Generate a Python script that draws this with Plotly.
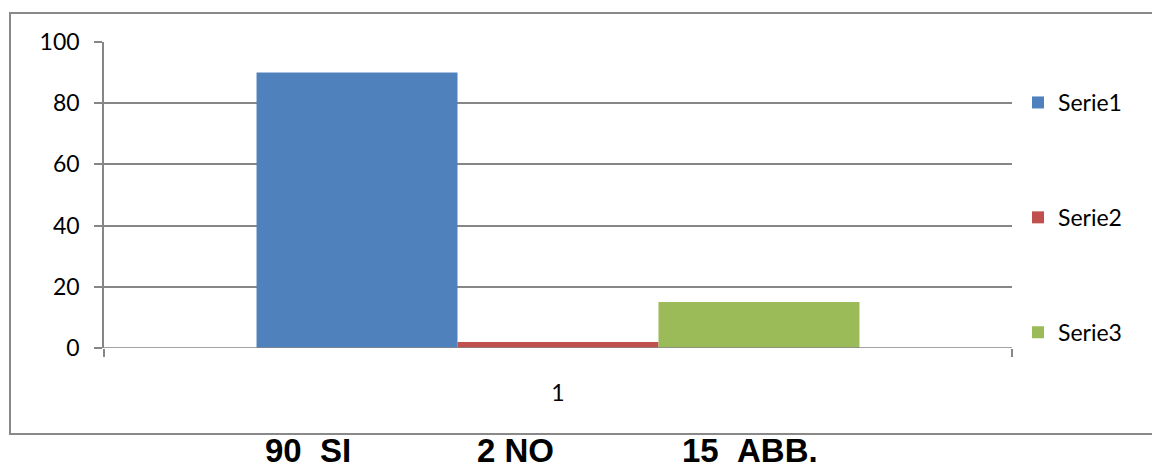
import plotly.graph_objects as go

categories = ["1"]
series_names = ["Serie1", "Serie2", "Serie3"]
series_values = [[90], [2], [15]]
series_colors = ["#4F81BD", "#C0504D", "#9BBB59"]
y_ticks = [0, 20, 40, 60, 80, 100]
footer_labels = ["90\u00a0\u00a0SI", "2 NO", "15\u00a0\u00a0ABB."]
footer_x_px = [308, 515, 750]

# page body has an 8px margin; work in window pixels and convert
OFF = 8
W, H = 1160 - OFF, 472 - OFF
L, R, T, B = 104 - OFF, 1160 - 1012, 42 - OFF, 472 - 348
pw, ph = W - L - R, H - T - B

fig = go.Figure()
for name, vals, col in zip(series_names, series_values, series_colors):
    fig.add_trace(go.Bar(x=categories, y=vals, name=name, marker_color=col,
                         marker_line_width=0, legendgroup=name))

def px_x(px):
    return (px - OFF - L) / pw

def px_y(py):
    return (T + ph - (py - OFF)) / ph

grid_col = "#868686"
fig.update_layout(
    width=W, height=H,
    margin=dict(l=L, r=R, t=T, b=B, pad=0),
    paper_bgcolor="white", plot_bgcolor="white",
    barmode="group", bargap=0.336, bargroupgap=0,
    font=dict(family="Lato", size=23, color="#000000"),
    showlegend=True,
    legend=dict(x=px_x(1018), y=px_y(81), xanchor="left", yanchor="top",
                traceorder="grouped", tracegroupgap=82,
                font=dict(family="Lato", size=23, color="#000000"),
                bgcolor="rgba(0,0,0,0)", itemwidth=30),
    xaxis=dict(type="category", showgrid=False, showline=False, zeroline=False,
               ticks="outside", tickson="boundaries", ticklen=8, tickwidth=1.5,
               tickcolor=grid_col, ticklabelstandoff=29,
               tickfont=dict(family="Lato", size=23)),
    yaxis=dict(range=[0, 100], tickvals=y_ticks, showgrid=True, gridcolor=grid_col,
               gridwidth=1.5, showline=True, linecolor=grid_col, linewidth=1.5,
               zeroline=False, ticks="outside", ticklen=8, tickwidth=1.5,
               tickcolor=grid_col, ticklabelstandoff=10,
               tickfont=dict(family="Lato", size=23)),
)

# outer chart frame
fig.add_shape(type="rect", xref="paper", yref="paper",
              x0=px_x(10), x1=px_x(1175), y0=px_y(434), y1=px_y(13),
              line=dict(color="#898989", width=2), fillcolor="rgba(0,0,0,0)", layer="below")
# x-axis baseline
fig.add_shape(type="line", xref="paper", yref="y", x0=px_x(96), x1=1, y0=0, y1=0,
              line=dict(color=grid_col, width=1.5))

for txt, xp in zip(footer_labels, footer_x_px):
    fig.add_annotation(text="<b>" + txt + "</b>", xref="paper", yref="paper",
                       x=px_x(xp), y=px_y(450), xanchor="center", yanchor="middle",
                       showarrow=False,
                       font=dict(family="Liberation Sans", size=33, color="#000000"))

fig.write_html("out.html")
